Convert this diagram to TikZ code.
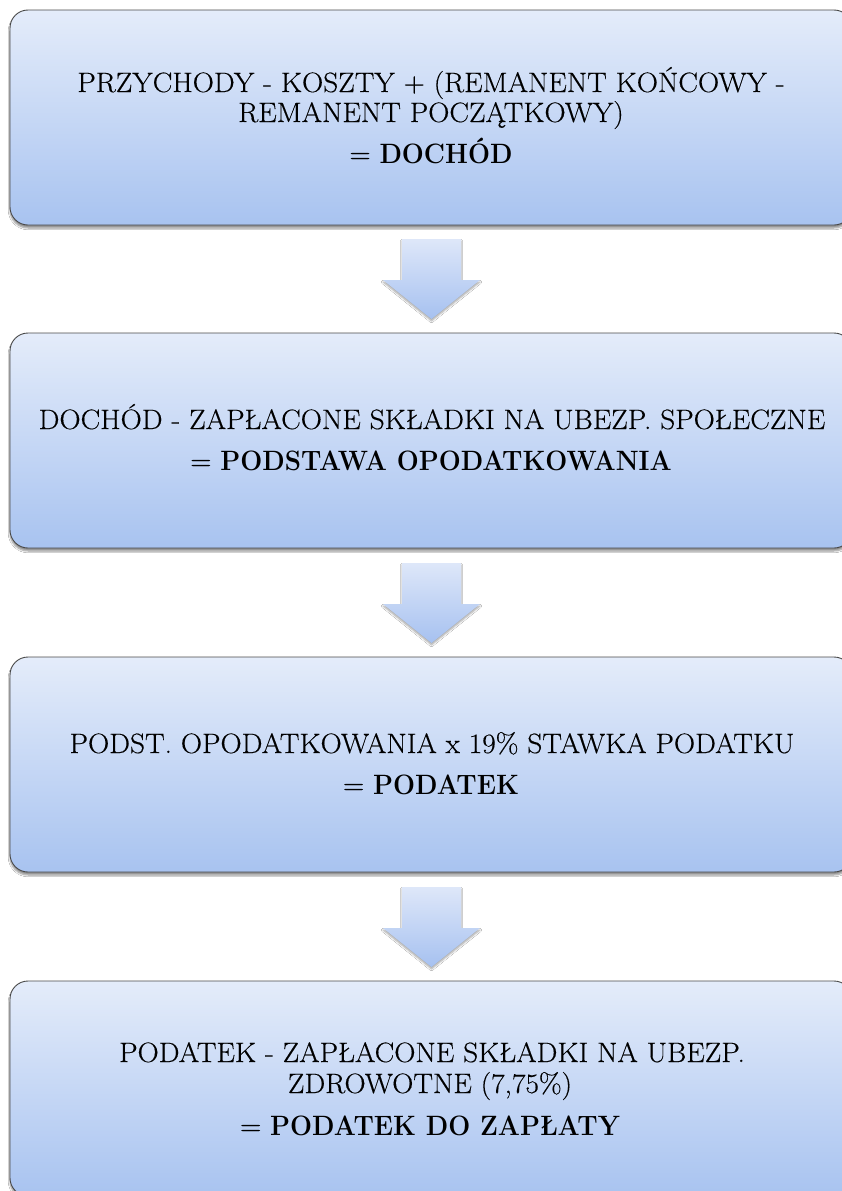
\documentclass[tikz,border=0pt]{standalone}
\usepackage{fontspec}
\setmainfont{Latin Modern Roman}[FakeStretch=1.05, FakeBold=0.35, BoldFeatures={FakeStretch=0.93, FakeBold=0}]
\usetikzlibrary{shadows.blur}
\definecolor{boxtop}{HTML}{E4ECFA}
\definecolor{boxbot}{HTML}{A8C3F0}
\definecolor{arrtop}{HTML}{DEE7F9}
\definecolor{arrbot}{HTML}{A6C1F0}
\definecolor{edge}{HTML}{4A4A4A}
\tikzset{
  stagebox/.style={draw=edge, line width=0.9pt, rounded corners=18pt,
    top color=boxtop, bottom color=boxbot, minimum width=842pt, minimum height=215pt,
    inner sep=0pt, blur shadow={shadow xshift=0pt, shadow yshift=-3pt, shadow blur steps=6, shadow opacity=45}},
  txt/.style={anchor=base, inner sep=0pt, font=\fontsize{28}{30}\selectfont},
  flowarrow/.style={top color=arrtop, bottom color=arrbot, draw=none,
    blur shadow={shadow xshift=0pt, shadow yshift=-2pt, shadow blur steps=5, shadow opacity=35}}
}
\begin{document}
\begin{tikzpicture}[x=1pt,y=-1pt]
\useasboundingbox (0,0) rectangle (842,1191);
\fill[white] (0,0) rectangle (842,1191);
% boxes
\node[stagebox] (b1) at (431,117.5) {};
\node[stagebox] (b2) at (431,440.5) {};
\node[stagebox] (b3) at (431,764.5) {};
\node[stagebox] (b4) at (431,1088.5) {};
% text
\node[txt] (t1a) at (431,92) {PRZYCHODY - KOSZTY + (REMANENT KOŃCOWY -};
\node[txt] (t1b) at (431,122) {REMANENT POCZĄTKOWY)};
\node[txt] (t1c) at (431,163) {= \textbf{DOCHÓD}};
\node[txt] (t2a) at (432,429) {DOCHÓD - ZAPŁACONE SKŁADKI NA UBEZP. SPOŁECZNE};
\node[txt] (t2b) at (431,470) {= \textbf{PODSTAWA OPODATKOWANIA}};
\node[txt] (t3a) at (432,753) {PODST. OPODATKOWANIA x 19\% STAWKA PODATKU};
\node[txt] (t3b) at (431,794) {= \textbf{PODATEK}};
\node[txt] (t4a) at (432,1062) {PODATEK - ZAPŁACONE SKŁADKI NA UBEZP.};
\node[txt] (t4b) at (430,1093) {ZDROWOTNE (7,75\%)};
\node[txt] (t4c) at (430,1135) {= \textbf{PODATEK DO ZAPŁATY}};
% arrows
\foreach \y in {239,563,887}{
  \path[flowarrow] (402,\y) -- (461,\y) -- (461,\y+41) -- (480,\y+41) -- (431.5,\y+80)
     -- (383,\y+41) -- (402,\y+41) -- cycle;
}
\end{tikzpicture}
\end{document}
